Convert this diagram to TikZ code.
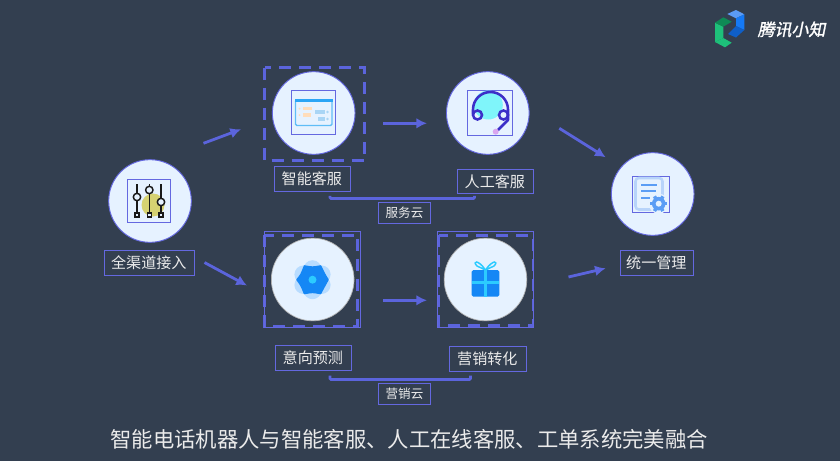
\documentclass[tikz,border=0pt]{standalone}
\usepackage{fontspec}
\setmainfont{Noto Sans CJK SC}
\newfontfamily\logofont[FakeSlant=.2,FakeBold=1.5]{Noto Sans CJK SC}
\usetikzlibrary{arrows.meta}
\definecolor{bgdark}{HTML}{333F50}
\definecolor{linkblue}{HTML}{5B64DC}
\definecolor{thinblue}{HTML}{6468E0}
\definecolor{hubfill}{HTML}{E6F2FF}
\definecolor{iconblue}{HTML}{1587F5}
\definecolor{iconcyan}{HTML}{2CCBFF}
\definecolor{sliderback}{HTML}{D6D272}
\definecolor{sheetline}{HTML}{5FBDF7}
\definecolor{sheetbar}{HTML}{2CA5F5}
\definecolor{sheetorange}{HTML}{FFDDBB}
\definecolor{sheetblue}{HTML}{A9D5F5}
\definecolor{headback}{HTML}{7FF5FA}
\definecolor{headline}{HTML}{3C2FC8}
\definecolor{headdot}{HTML}{D9A6F0}
\definecolor{docline}{HTML}{B8D4FA}
\definecolor{docblue}{HTML}{5B9DF5}
\definecolor{petal}{HTML}{B8DCFF}
\definecolor{logotop}{HTML}{5B9BF5}
\definecolor{logoright}{HTML}{1579F5}
\definecolor{logolow}{HTML}{0F5FC8}
\definecolor{logodark}{HTML}{0E8A55}
\definecolor{logogreen}{HTML}{1EC07A}
\tikzset{
    hub/.style={circle, fill=hubfill, draw=thinblue, line width=.7pt, minimum size=62pt, inner sep=0pt},
    softhub/.style={circle, fill=hubfill, draw=gray!60!white, line width=.5pt, minimum size=62pt, inner sep=0pt},
    iconbox/.style={rectangle, draw=thinblue, line width=.7pt, inner sep=0pt},
    tag/.style={rectangle, draw=thinblue, line width=.7pt, text=white!92!black, font=\fontsize{11.3pt}{13pt}\selectfont, minimum width=57pt, minimum height=18.6pt, inner sep=0pt},
    cloudtag/.style={tag, font=\fontsize{9.4pt}{11pt}\selectfont, minimum width=39pt, minimum height=16pt},
    dashbox/.style={draw=linkblue, line width=2.2pt, dash pattern=on 9pt off 6pt},
    flow/.style={draw=linkblue, line width=2.1pt, -{Latex[length=8pt,width=8pt]}},
    brace/.style={draw=linkblue, line width=2pt, rounded corners=.8pt}
}
\begin{document}
\begin{tikzpicture}[x=.75pt, y=-.75pt]
\useasboundingbox (0,0) rectangle (840,461);
\fill[bgdark] (0,0) rectangle (840,461);
% dashed frames
\draw[dashbox] (264.5,67.5) rectangle (364.5,160.5);
\draw[dashbox] (264.8,235.3) rectangle (357.7,326.8);
\draw[dashbox] (438.8,235.3) rectangle (533,325.8);
\node[iconbox, minimum width=72pt, minimum height=71.6pt] (intentframe) at (312.2,279.5) {};
\node[iconbox, minimum width=72.3pt, minimum height=71.6pt] (marketframe) at (485.5,279.5) {};
% hubs
\node[hub] (channel) at (150,201) {};
\node[hub] (smart) at (313.7,113) {};
\node[hub] (human) at (487.8,113) {};
\node[hub] (manage) at (652.7,194) {};
\node[softhub] (intent) at (312.7,279.5) {};
\node[softhub] (market) at (485.5,279.5) {};
% labels
\node[tag, minimum width=68pt] (channeltag) at (149.5,263) {\hspace{-1pt}全渠道接入};
\node[tag] (smarttag) at (312.5,179) {\hspace{-1pt}智能客服};
\node[tag] (humantag) at (495.5,181.5) {\hspace{-1pt}人工客服};
\node[tag, minimum width=55pt] (managetag) at (657,263) {\hspace{-1pt}统一管理};
\node[tag] (intenttag) at (313.5,358) {\hspace{-1pt}意向预测};
\node[tag, minimum width=58pt] (markettag) at (488,359) {\hspace{-1pt}营销转化};
\node[cloudtag] (servicecloud) at (404.5,213) {服务云};
\node[cloudtag] (salescloud) at (404.5,394) {营销云};
% arrows
\coordinate (a1s) at (203.5,143.3);
\coordinate (a1e) at (241,129.3);
\coordinate (a2s) at (204.5,262.5);
\coordinate (a2e) at (247,285.5);
\coordinate (a3s) at (383,123.3);
\coordinate (a3e) at (427,123.3);
\coordinate (a4s) at (559.3,128.3);
\coordinate (a4e) at (605.7,157.3);
\coordinate (a5s) at (383.3,300.3);
\coordinate (a5e) at (427,300.3);
\coordinate (a6s) at (568.5,277);
\coordinate (a6e) at (605.7,268.3);
\foreach \a in {1,...,6}
{
    \draw[flow] (a\a s)--(a\a e);
}
% cloud brackets
\coordinate (b1l) at (330,195.8);
\coordinate (b1r) at (474.5,195.8);
\coordinate (b2l) at (330,375.5);
\coordinate (b2r) at (470.5,375.5);
\draw[brace] (b1l)--(330,198.5)--(474.5,198.5)--(b1r);
\draw[brace] (b2l)--(330,379.5)--(470.5,379.5)--(b2r);
% channel icon
\node[iconbox, minimum width=32.5pt, minimum height=32.5pt] (channelicon) at (149,201) {};
\fill[sliderback] (153,205) circle (11.5);
\foreach \x/\y in {137/197, 149.3/190, 161/202}
{
    \draw[black!90, line width=1.1pt] (\x,184)--(\x,212);
    \draw[black!90, line width=1.1pt, fill=hubfill] (\x,\y) circle (3.7);
    \draw[black!90, line width=1.1pt, fill=hubfill] (\x-2,213) rectangle (\x+2,217);
}
% smart icon
\node[iconbox, minimum width=33.3pt, minimum height=33.3pt] (smarticon) at (313.5,112.5) {};
\draw[sheetline, line width=1pt, rounded corners=1pt] (295.5,100) rectangle (332,125.5);
\fill[sheetbar] (295,99.3) rectangle (332.5,102);
\foreach \y/\r in {108.7/312, 115/311}
{
    \fill[sheetorange] (303,\y-1.7) rectangle (\r,\y+1.7);
    \fill[sheetorange] (299.5,\y) circle (1);
}
\foreach \y/\l in {112/315, 119/318}
{
    \fill[sheetblue] (\l,\y-2) rectangle (325,\y+2);
    \fill[sheetblue] (327.5,\y) circle (1.3);
}
% human icon
\node[iconbox, minimum width=34pt, minimum height=34pt] (humanicon) at (490,113) {};
\fill[headback] (488.3,105) circle (14.5);
\draw[headline, line width=1.9pt, line join=round] (473,114) -- (473,109.5) arc (180:360:17.5) -- (508,120) -- (498,130);
\draw[headline, line width=1.9pt] (477.5,115) circle (4.5);
\draw[headline, line width=1.9pt] (503.5,115) circle (4.5);
\fill[headdot] (495.7,131.7) circle (3);
% manage icon
\node[iconbox, minimum width=28pt, minimum height=27.3pt] (manageicon) at (651,194.5) {};
\draw[docline, line width=1.9pt, rounded corners=2.5pt] (635.5,178) rectangle (662.5,209.5);
\foreach \y/\r in {185/657, 191/656, 197.7/650}
{
    \draw[docblue, line width=1.4pt] (641,\y)--(\r,\y);
}
\fill[hubfill] (658.7,203.7) circle (10);
\foreach \t in {0,60,...,300}
{
    \draw[docblue, line width=2.6pt] (658.7,203.7)--++(\t:8.5);
}
\fill[docblue] (658.7,203.7) circle (6.8);
\fill[hubfill] (658.7,203.7) circle (3);
% intent icon
\foreach \t in {30,90,...,330}
{
    \fill[petal] (312.5,279.7)++(\t:10.5) circle (9);
}
\fill[iconblue, draw=iconblue, line width=1.2pt, line join=round] (328,279.7)
    .. controls (325,275) .. (320.5,266) .. controls (312.5,267.5) .. (304.5,266)
    .. controls (301,275) .. (297,279.7) .. controls (301,285) .. (304.5,293.5)
    .. controls (312.5,292) .. (320.5,293.5) .. controls (325,285) .. cycle;
\fill[iconcyan] (312.5,279.7) circle (4);
% gift icon
\fill[iconblue, rounded corners=1.2pt] (471.7,270) rectangle (499.3,296.7);
\fill[iconcyan] (483.8,270) rectangle (487.2,296.7);
\fill[iconcyan] (471.7,281) rectangle (499.3,284);
\draw[iconcyan, line width=1.1pt] (485.5,270) .. controls (478,259) and (472,261) .. (477,266) -- (485.5,270);
\draw[iconcyan, line width=1.1pt] (485.5,270) .. controls (493,259) and (499,261) .. (494,266) -- (485.5,270);
% logo
\fill[logotop] (727.3,14)--(736,10)--(744.3,14.3)--(736,18.3)--cycle;
\fill[logoright] (736,18.3)--(744.3,14.3)--(744.3,30)--(736,26)--cycle;
\fill[logolow] (728,34)--(736,26)--(744.3,30)--(736,37.5)--cycle;
\fill[logogreen] (715,22.7)--(723.3,26.7)--(723.3,38)--(715,42)--cycle;
\fill[logogreen] (723.3,38)--(731.7,42.7)--(725,47.3)--(715,42)--cycle;
\fill[logodark] (715,22.7)--(723.3,17.3)--(731.7,21.7)--(723.3,26.7)--cycle;
\node[text=white, font=\logofont\fontsize{12.7pt}{14pt}\selectfont, inner sep=0pt] (logotext) at (791.5,29.5) {腾讯小知};
% caption
\node[text=white!92!black, font=\fontsize{16pt}{18pt}\selectfont, inner sep=0pt] (caption) at (409.3,439.5) {智能电话机器人与智能客服、人工在线客服、工单系统完美融合};
\end{tikzpicture}
\end{document}
